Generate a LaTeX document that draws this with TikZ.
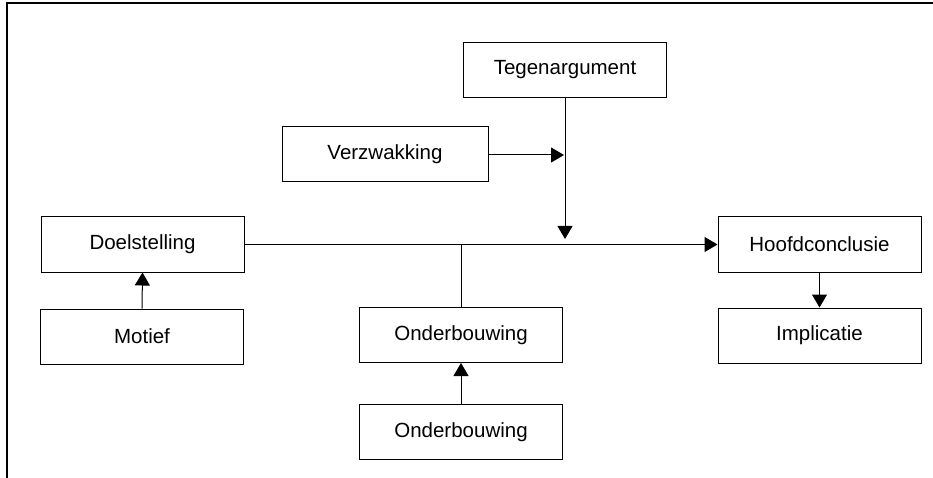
\documentclass[tikz,border=0pt]{standalone}
\usepackage{fontspec}
\setmainfont{Liberation Sans}
\usetikzlibrary{arrows.meta}
\begin{document}
\begin{tikzpicture}[x=1pt,y=-1pt,
    argbox/.style={draw=black,line width=1pt,minimum width=203pt,minimum height=55pt,inner sep=0pt,font=\fontsize{20.5}{24}\selectfont},
    pijl/.style={line width=1pt,-{Triangle[length=13pt,width=15pt]}},
    lijn/.style={line width=1pt}]
    \useasboundingbox (0,0) rectangle (933,478);
    \draw [line width=1.5pt] (7,478) -- (7,3) -- (933,3);
    \node [argbox] (teg) at (565,70) {Tegenargument};
    \node [argbox,minimum width=206pt] (verz) at (385,154) {Verzwakking};
    \node [argbox] (doel) at (142.5,244.5) {Doelstelling};
    \node [argbox] (motief) at (142,336.5) {Motief};
    \node [argbox] (ond1) at (461,335) {Onderbouwing};
    \node [argbox] (ond2) at (461,432) {Onderbouwing};
    \node [argbox] (hoofd) at (819.5,244.5) {Hoofdconclusie};
    \node [argbox] (impl) at (819.5,335.5) {Implicatie};
    \coordinate (tegeind) at (565,239);
    \coordinate (verzeind) at (564,155);
    \draw [pijl] (doel.east) -- (hoofd.west);
    \draw [pijl] (teg.south) -- (tegeind);
    \draw [pijl] (verz.east |- verzeind) -- (verzeind);
    \draw [lijn] (ond1.north) -- (ond1.north |- doel.east);
    \draw [pijl] (ond2.north) -- (ond1.south);
    \draw [pijl] (motief.north) -- (doel.south);
    \draw [pijl] (hoofd.south) -- (impl.north);
\end{tikzpicture}
\end{document}
